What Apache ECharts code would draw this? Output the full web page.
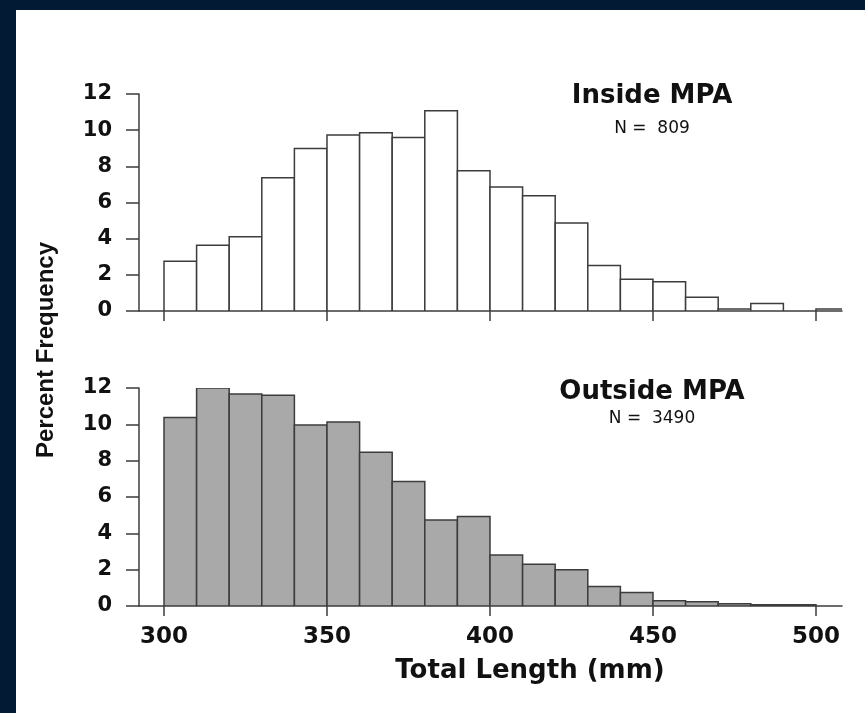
<!DOCTYPE html>
<html lang="en">
<head>
  <meta charset="UTF-8">
  <title>Total Length - Inside / Outside MPA</title>
  <style>
    html, body { margin: 0; padding: 0; background: #021a33; }
  </style>
</head>
<body>
  <div id="main" style="width:865px;height:713px"></div>
  <script src="https://cdn.jsdelivr.net/npm/echarts@6/dist/echarts.min.js"></script>
  <script>
    // bins are 10 mm wide, value = start of the bin
    var binStarts = [300, 310, 320, 330, 340, 350, 360, 370, 380, 390, 400,
                     410, 420, 430, 440, 450, 460, 470, 480, 490, 500];
    var insideMPA = [2.75, 3.63, 4.11, 7.37, 8.98, 9.73, 9.86, 9.60, 11.08, 7.76, 6.86,
                     6.38, 4.87, 2.51, 1.75, 1.62, 0.76, 0.11, 0.41, 0, 0.11];
    var outsideMPA = [10.37, 12.0, 11.67, 11.6, 9.96, 10.13, 8.47, 6.86, 4.74, 4.93, 2.81,
                      2.30, 2.00, 1.07, 0.75, 0.29, 0.24, 0.13, 0.07, 0.07, 0];
    var lengthTicks = [300, 350, 400, 450, 500];
    var binWidth = 10;

    var myChart = echarts.init(document.getElementById('main'));

    var lineCol = '#3c3c3c';
    var bold = 'DejaVu Sans';

    function toPairs(vals) {
      return binStarts.map(function (s, i) { return [s, vals[i]]; });
    }

    function drawBin(fill) {
      return function (params, api) {
        var start = api.value(0);
        var pct = api.value(1);
        if (!pct) return null;
        var lo = api.coord([start, 0]);
        var hi = api.coord([start + binWidth, pct]);
        return {
          type: 'rect',
          shape: { x: lo[0], y: hi[1], width: hi[0] - lo[0], height: lo[1] - hi[1] },
          style: { fill: fill, stroke: lineCol, lineWidth: 1.5 }
        };
      };
    }

    function lengthAxis(idx, withLabels) {
      return {
        gridIndex: idx,
        type: 'value',
        min: 292.33,
        max: 507.98,
        axisLine: { show: true, onZero: true, lineStyle: { color: lineCol, width: 1.5 } },
        axisTick: { show: true, length: 10, customValues: lengthTicks, lineStyle: { color: lineCol, width: 1.5 } },
        axisLabel: {
          show: withLabels,
          customValues: lengthTicks,
          margin: 20,
          fontFamily: bold, fontWeight: 'bold', fontSize: 23, color: '#111'
        },
        splitLine: { show: false }
      };
    }

    function pctAxis(idx) {
      return {
        gridIndex: idx,
        type: 'value',
        min: 0,
        max: 12,
        interval: 2,
        axisLine: { show: true, lineStyle: { color: lineCol, width: 1.5 } },
        axisTick: { show: true, length: 13, lineStyle: { color: lineCol, width: 1.5 } },
        axisLabel: { margin: 27, fontFamily: bold, fontWeight: 'bold', fontSize: 21, color: '#111' },
        splitLine: { show: false }
      };
    }

    var option = {
      backgroundColor: '#021a33',
      animation: false,
      grid: [
        { left: 139, top: 94, width: 703, height: 217 },
        { left: 139, top: 388, width: 703, height: 218 }
      ],
      xAxis: [lengthAxis(0, false), lengthAxis(1, true)],
      yAxis: [pctAxis(0), pctAxis(1)],
      graphic: [
        { type: 'rect', z: -100, shape: { x: 16, y: 10, width: 849, height: 703 }, style: { fill: '#ffffff' } },
        { type: 'text', x: 652, y: 96, style: { text: 'Inside MPA', font: 'bold 26px "DejaVu Sans"', fill: '#111', align: 'center', verticalAlign: 'middle' } },
        { type: 'text', x: 652, y: 129, style: { text: 'N =  809', font: '17px "DejaVu Sans"', fill: '#111', align: 'center', verticalAlign: 'middle' } },
        { type: 'text', x: 652, y: 392, style: { text: 'Outside MPA', font: 'bold 26px "DejaVu Sans"', fill: '#111', align: 'center', verticalAlign: 'middle' } },
        { type: 'text', x: 652, y: 419, style: { text: 'N =  3490', font: '17px "DejaVu Sans"', fill: '#111', align: 'center', verticalAlign: 'middle' } },
        { type: 'text', x: 530, y: 671, style: { text: 'Total Length (mm)', font: 'bold 26px "DejaVu Sans"', fill: '#111', align: 'center', verticalAlign: 'middle' } },
        { type: 'text', x: 46, y: 350, rotation: Math.PI / 2, style: { text: 'Percent Frequency', font: 'bold 24px "Liberation Sans"', fill: '#111', align: 'center', verticalAlign: 'middle' } }
      ],
      series: [
        {
          name: 'Inside MPA',
          type: 'custom',
          xAxisIndex: 0, yAxisIndex: 0,
          clip: true,
          renderItem: drawBin('#ffffff'),
          data: toPairs(insideMPA)
        },
        {
          name: 'Outside MPA',
          type: 'custom',
          xAxisIndex: 1, yAxisIndex: 1,
          clip: true,
          renderItem: drawBin('#a9a9a9'),
          data: toPairs(outsideMPA)
        }
      ]
    };

    myChart.setOption(option);
  </script>
</body>
</html>
